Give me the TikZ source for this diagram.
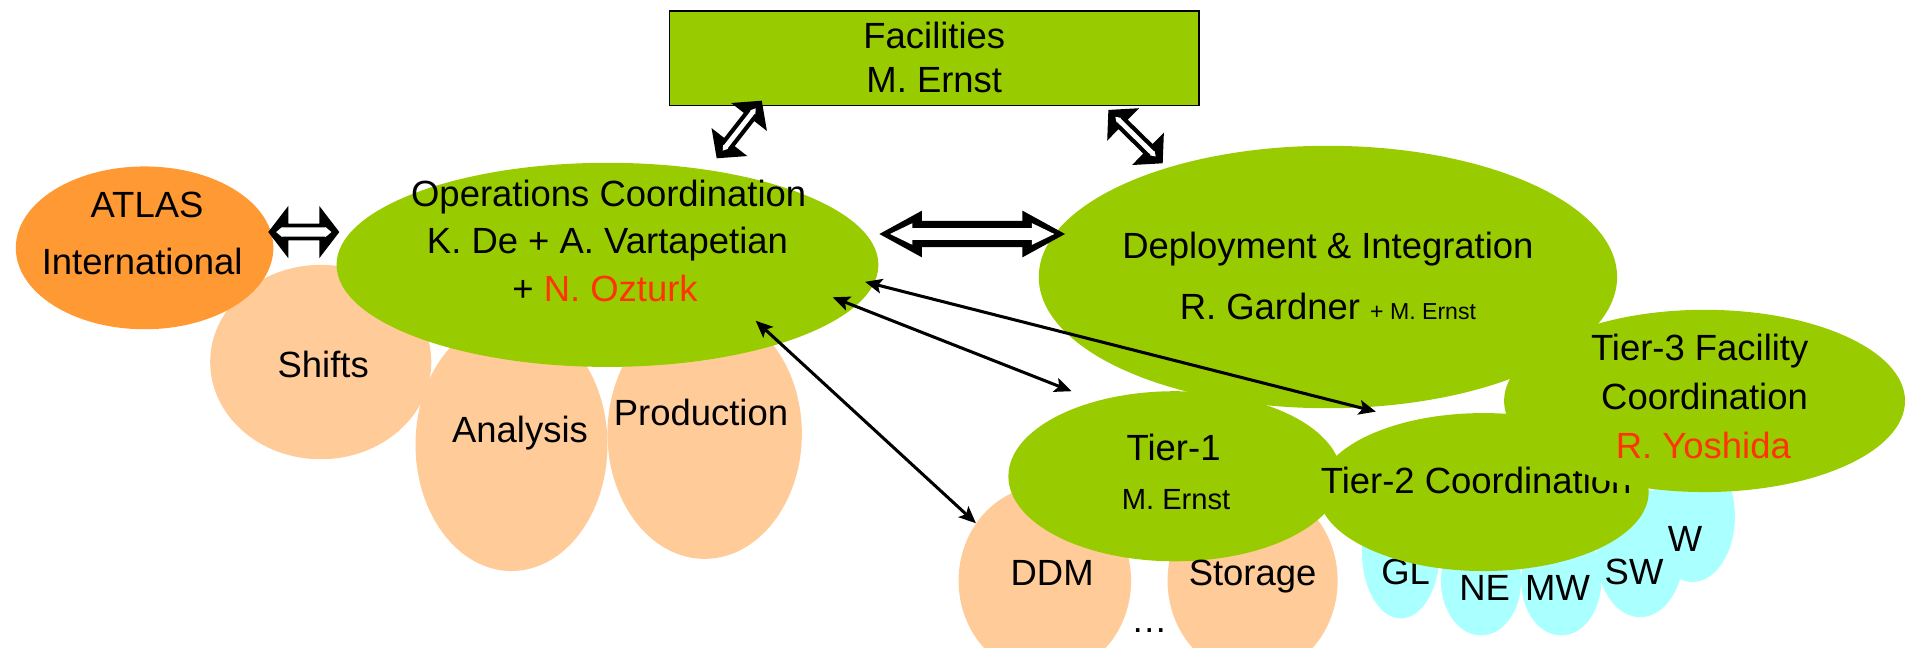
\documentclass[tikz,border=0pt]{standalone}
\usepackage{fontspec}
\setmainfont{Liberation Sans}
\usetikzlibrary{shapes.geometric,arrows.meta,calc}
\definecolor{lime}{HTML}{99CC00}
\definecolor{orng}{HTML}{FF9933}
\definecolor{peach}{HTML}{FFCC99}
\definecolor{aqua}{HTML}{AAFFFF}
\definecolor{redtxt}{HTML}{FF3300}
% #1 A, #2 B, #3 outer head length, #4 outer head half width, #5 outer shaft half width,
% #6 inner tip inset, #7 inner head length, #8 inner head half width, #9 inner shaft half width
\newcommand\blockarrow[9]{%
  \coordinate (oA) at ($(#1)!#3!(#2)$);
  \coordinate (oB) at ($(#2)!#3!(#1)$);
  \fill[black] (#1) -- ($(oA)!#4!90:(#2)$) -- ($(oA)!#5!90:(#2)$) -- ($(oB)!#5!-90:(#1)$) -- ($(oB)!#4!-90:(#1)$) -- (#2) -- ($(oB)!#4!90:(#1)$) -- ($(oB)!#5!90:(#1)$) -- ($(oA)!#5!-90:(#2)$) -- ($(oA)!#4!-90:(#2)$) -- cycle;
  \coordinate (iA) at ($(#1)!#6!(#2)$);
  \coordinate (iB) at ($(#2)!#6!(#1)$);
  \coordinate (iA2) at ($(iA)!#7!(iB)$);
  \coordinate (iB2) at ($(iB)!#7!(iA)$);
  \fill[white] (iA) -- ($(iA2)!#8!90:(iB)$) -- ($(iA2)!#9!90:(iB)$) -- ($(iB2)!#9!-90:(iA)$) -- ($(iB2)!#8!-90:(iA)$) -- (iB) -- ($(iB2)!#8!90:(iA)$) -- ($(iB2)!#9!90:(iA)$) -- ($(iA2)!#9!-90:(iB)$) -- ($(iA2)!#8!-90:(iB)$) -- cycle;}
\tikzset{
  blob/.style={ellipse, inner sep=0pt, draw=none},
  lbl/.style={anchor=base, inner sep=0pt, font=\fontsize{30}{36}\selectfont},
  thinarr/.style={line width=2.5pt, {Stealth[length=14pt,width=12pt,inset=3pt]}-{Stealth[length=14pt,width=12pt,inset=3pt]}},
}
\begin{document}
\begin{tikzpicture}[x=1pt,y=-1pt]
\useasboundingbox (0,0) rectangle (1568,533);
% peach sub-blobs of operations
\node[blob, fill=peach, minimum width=182pt, minimum height=160pt] (shifts) at (264,298) {};
\node[blob, fill=peach, minimum width=158pt, minimum height=208pt] (analysis) at (421,366) {};
\node[blob, fill=peach, minimum width=160pt, minimum height=206pt] (production) at (580,357) {};
\node[lbl] (tshifts) at (266,311) {Shifts};
\node[lbl] (tanalysis) at (428,364) {Analysis};
\node[lbl] (tproduction) at (577,350) {Production};
% ATLAS
\node[blob, fill=orng, minimum width=212pt, minimum height=134pt] (atlas) at (119,204) {};
\node[lbl] (tatlas1) at (121,179) {ATLAS};
\node[lbl] (tatlas2) at (117,226) {International};
% Operations
\node[blob, fill=lime, minimum width=446pt, minimum height=168pt] (ops) at (500,218) {};
\node[lbl] (tops1) at (501,170) {Operations Coordination};
\node[lbl] (tops2) at (500,209) {K. De + A. Vartapetian};
\node[lbl] (tops3) at (498,248) {+ \textcolor{redtxt}{N. Ozturk}};
% Facilities
\node[draw=black, line width=1.2pt, fill=lime, minimum width=436pt, minimum height=78pt, inner sep=0pt] (fac) at (769,48) {};
\node[lbl] (tfac1) at (769,40) {Facilities};
\node[lbl] (tfac2) at (769,76) {M. Ernst};
% DDM / Storage
\node[blob, fill=peach, minimum width=142pt, minimum height=156pt] (ddm) at (860,478) {};
\node[blob, fill=peach, minimum width=140pt, minimum height=156pt] (storage) at (1031,478) {};
% regions (cyan)
\node[blob, fill=aqua, minimum width=70pt, minimum height=108pt] (w) at (1393,425) {};
\node[blob, fill=aqua, minimum width=72pt, minimum height=106pt] (sw) at (1350,455) {};
\node[blob, fill=aqua, minimum width=66pt, minimum height=90pt] (mw) at (1285,478) {};
\node[blob, fill=aqua, minimum width=66pt, minimum height=90pt] (ne) at (1219,478) {};
\node[blob, fill=aqua, minimum width=64pt, minimum height=110pt] (gl) at (1153,454) {};
\node[lbl] (tgl) at (1157,481) {GL};
\node[lbl] (tne) at (1222,494) {NE};
\node[lbl] (tmw) at (1282,494) {MW};
\node[lbl] (tsw) at (1345,481) {SW};
\node[lbl] (tw) at (1387,454) {W};
% Deployment
\node[blob, fill=lime, minimum width=476pt, minimum height=216pt] (dep) at (1093,228) {};
\node[lbl] (tdep1) at (1093,213) {Deployment \& Integration};
\node[lbl] (tdep2) at (1093,263) {R. Gardner {\fontsize{19}{20}\selectfont + M. Ernst}};
% Tier-1, Tier-2
\node[blob, fill=lime, minimum width=274pt, minimum height=140pt] (t1) at (967,392) {};
\node[blob, fill=lime, minimum width=272pt, minimum height=130pt] (t2) at (1221,405) {};
\node[lbl] (tt1a) at (966,379) {Tier-1};
\node[lbl, font=\fontsize{24}{28}\selectfont] (tt1b) at (968,419) {M. Ernst};
\node[lbl, anchor=base west] (tt2) at (1087,406) {Tier-2 Coordination};
\node[lbl] (tddm) at (866,482) {DDM};
\node[lbl] (tstorage) at (1031,482) {Storage};
\node[lbl] (tdots) at (946,521) {…};
% Tier-3
\node[blob, fill=lime, minimum width=330pt, minimum height=150pt] (t3) at (1403,330) {};
\node[lbl] (tt3a) at (1399,297) {Tier-3 Facility};
\node[lbl] (tt3b) at (1403,337) {Coordination};
\node[lbl] (tt3c) at (1402,377) {\textcolor{redtxt}{R. Yoshida}};
% block arrows
\coordinate (atlasR) at (220.8,191);
\coordinate (opsL) at (279.3,191);
\coordinate (opsR) at (723.8,192.6);
\coordinate (depL) at (876.6,192.6);
\coordinate (opsT) at (589.9,130.3);
\coordinate (facBL) at (627,82.9);
\coordinate (facBR) at (912.3,90.5);
\coordinate (depT) at (957,134.4);
\blockarrow{atlasR}{opsL}{16.5pt}{21.5pt}{6.9pt}{6.5pt}{5pt}{4.2pt}{3.8pt}
\blockarrow{opsR}{depL}{35pt}{19.2pt}{10.8pt}{8.8pt}{18.4pt}{8.9pt}{4.8pt}
\blockarrow{opsT}{facBL}{17pt}{18.7pt}{5.5pt}{8pt}{4pt}{2.6pt}{2pt}
\blockarrow{facBR}{depT}{17pt}{18.7pt}{5.5pt}{8pt}{4pt}{2.6pt}{2pt}
% thin arrows
\coordinate (opsA) at (712,232);
\coordinate (t2A) at (1132.5,338.8);
\coordinate (opsB) at (685.4,244.7);
\coordinate (t1A) at (882,322);
\coordinate (opsC) at (622,264);
\coordinate (ddmA) at (803.3,430.7);
\draw[thinarr] (opsA) -- (t2A);
\draw[thinarr] (opsB) -- (t1A);
\draw[thinarr] (opsC) -- (ddmA);
\end{tikzpicture}
\end{document}
